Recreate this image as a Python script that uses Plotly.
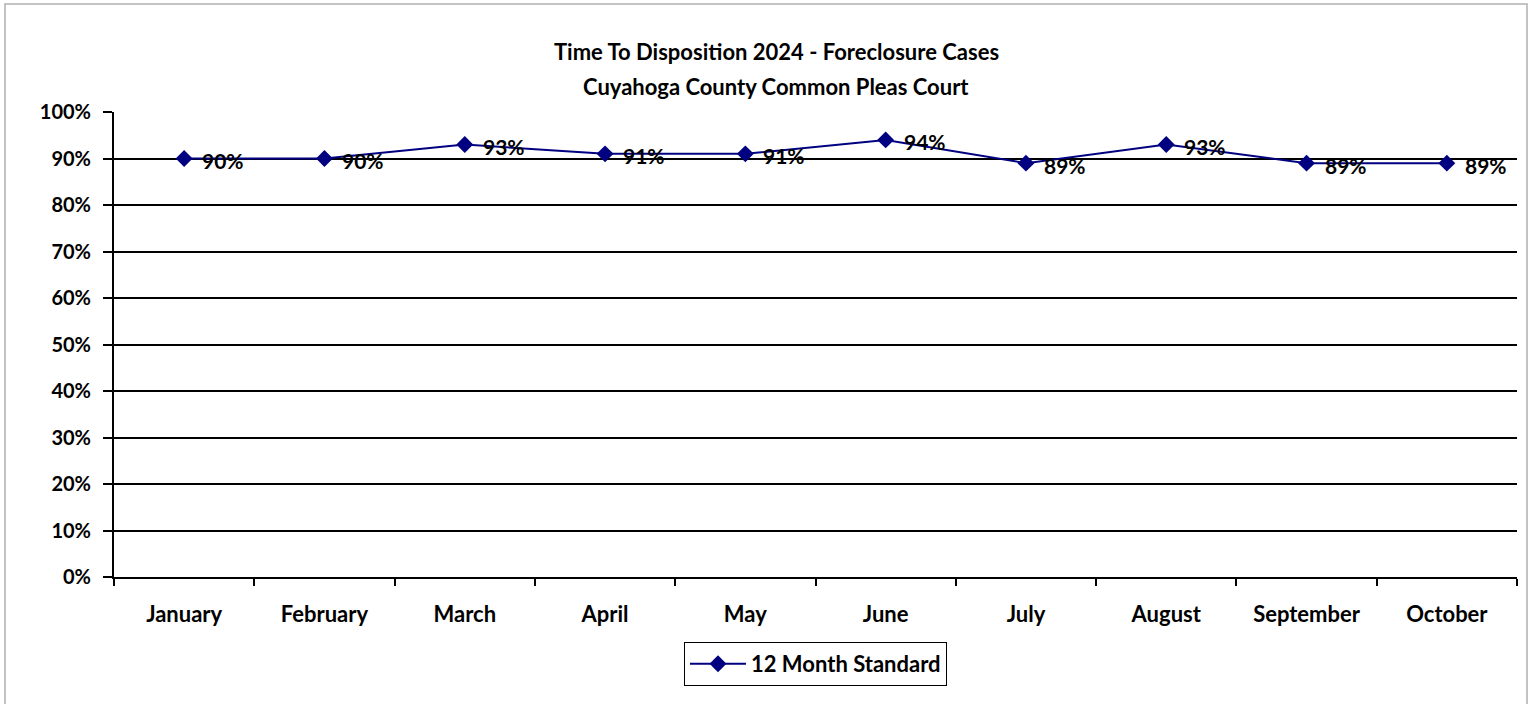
import plotly.graph_objects as go

months = ["January", "February", "March", "April", "May", "June",
          "July", "August", "September", "October"]
values = [0.90, 0.90, 0.93, 0.91, 0.91, 0.94, 0.89, 0.93, 0.89, 0.89]
labels = ["90%", "90%", "93%", "91%", "91%", "94%", "89%", "93%", "89%", "89%"]
series_name = "12 Month Standard"
title_lines = ["Time To Disposition 2024 - Foreclosure Cases",
               "Cuyahoga County Common Pleas Court"]

W, H = 1533, 704
L, R, T, B = 114, 1517, 112, 577
FONT = "Lato"
NAVY = "#000080"

def px_x(p):
    return (p - L) / (R - L)

def px_y(p):
    return (B - p) / (B - T)

fig = go.Figure()
fig.add_trace(go.Scatter(
    x=months, y=values, mode="lines+markers", name=series_name,
    line=dict(color=NAVY, width=2),
    marker=dict(symbol="diamond", size=13, color=NAVY),
))

for m, v, lab in zip(months, values, labels):
    fig.add_annotation(
        x=m, y=v, text=lab, showarrow=False, xanchor="left", yanchor="middle",
        xshift=16, yshift=-2,
        font=dict(family=FONT, size=21, color="black", weight="bold"),
    )

fig.update_layout(
    width=W, height=H,
    margin=dict(l=L, r=W - R, t=T, b=H - B, pad=0),
    paper_bgcolor="white", plot_bgcolor="white",
    font=dict(family=FONT, color="black"),
    showlegend=True,
    legend=dict(
        orientation="h", x=0.5, xanchor="center", y=px_y(642), yanchor="top",
        bordercolor="black", borderwidth=1,
        font=dict(family=FONT, size=22, color="black", weight="bold"),
        itemwidth=56,
    ),
    xaxis=dict(
        type="category", range=[-0.5, len(months) - 0.5],
        showline=True, linecolor="black", linewidth=2,
        ticks="outside", tickson="boundaries", ticklen=7, tickwidth=1.5, tickcolor="black",
        showgrid=False, ticklabelstandoff=17,
        tickfont=dict(family=FONT, size=22, color="black", weight="bold"),
        fixedrange=True,
    ),
    yaxis=dict(
        range=[0, 1], dtick=0.1, tickformat=".0%",
        showline=True, linecolor="black", linewidth=2,
        ticks="outside", ticklen=9, tickwidth=1.5, tickcolor="black",
        showgrid=True, gridcolor="black", gridwidth=1.5,
        zeroline=False, ticklabelstandoff=8,
        tickfont=dict(family=FONT, size=20, color="black", weight="bold"),
        fixedrange=True,
    ),
)

for i, t in enumerate(title_lines):
    fig.add_annotation(
        text=t, xref="paper", yref="paper", x=px_x(776), y=px_y([51, 86][i]),
        xanchor="center", yanchor="middle", showarrow=False,
        font=dict(family=FONT, size=22, color="black", weight="bold"),
    )

fig.add_shape(type="rect", xref="paper", yref="paper",
              x0=px_x(5), x1=px_x(1527), y0=px_y(720), y1=px_y(4),
              line=dict(color="#b0b0b0", width=1.5), layer="below")

fig.write_html("out.html", config={"displayModeBar": False},
               post_script="document.body.style.margin='0';document.body.style.overflow='hidden';")
